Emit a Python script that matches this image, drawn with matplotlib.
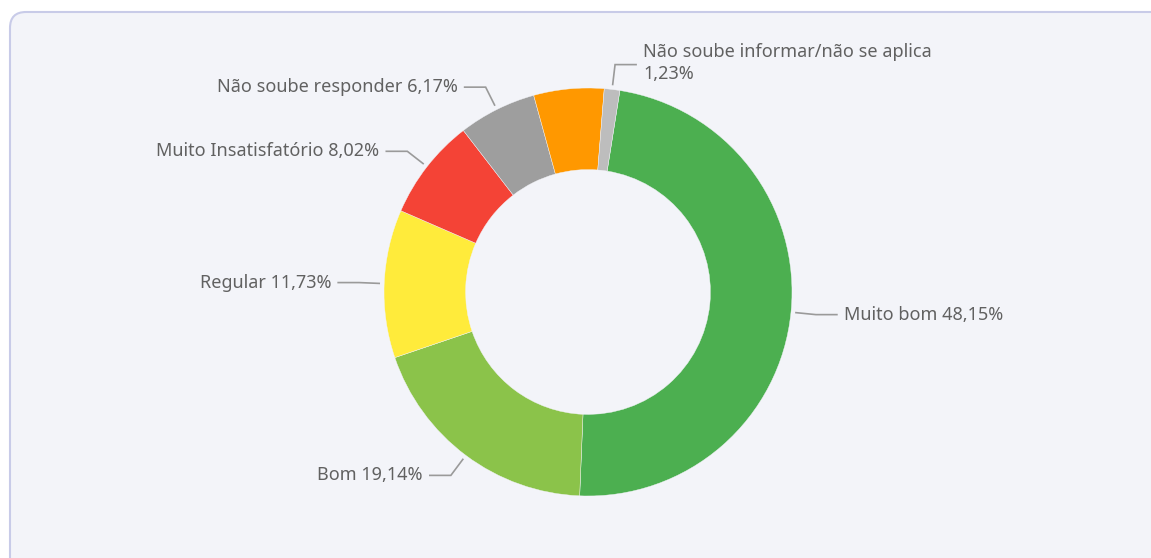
import numpy as np
import matplotlib.pyplot as plt
from matplotlib.patches import FancyBboxPatch

# slice data, clockwise starting from the right of the top
labels = ["Muito bom", "Bom", "Regular", "Muito Insatisfatório",
          "Não soube responder", "Insatisfatório",
          "Não soube informar/não se aplica"]
values = [48.15, 19.14, 11.73, 8.02, 6.17, 5.56, 1.23]
colors = ["#4caf50", "#8bc34a", "#ffeb3b", "#f44336",
          "#9e9e9e", "#ff9800", "#bdbdbd"]
show_label = [True, True, True, True, True, False, True]

W, H = 1151, 558
fig = plt.figure(figsize=(W / 100, H / 100), dpi=100)
fig.patch.set_facecolor("white")

ax = fig.add_axes([0, 0, 1, 1])
ax.set_facecolor("none")
ax.axis("off")

# rounded panel behind the chart
panel = FancyBboxPatch((10, -30), 1180, 576, boxstyle="round,pad=0,rounding_size=16",
                       facecolor="#f3f4f9", edgecolor="#c8cbe8",
                       linewidth=1.5, zorder=0)
ax.add_patch(panel)

cx, cy, r = 588, 558 - 292, 204
start = 9  # degrees clockwise from top where the first slice begins
wedges, _ = ax.pie(values, colors=colors, startangle=90 - start, counterclock=False,
                   radius=r, center=(cx, cy),
                   wedgeprops=dict(width=r * 0.4, edgecolor="#f3f4f9", linewidth=0.3,
                                   zorder=2))
ax.set_xlim(0, W)
ax.set_ylim(0, H)
ax.set_aspect("equal")
ax.axis("off")

font = ["Noto Sans", "DejaVu Sans"]
txt_color = "#616161"
line_color = "#9a9a9a"
fs = 13

cum = start
for lab, val, show in zip(labels, values, show_label):
    ang0 = cum
    cum += val * 3.6
    if not show:
        continue
    mid = np.radians((ang0 + cum) / 2)
    sx, sy = np.sin(mid), np.cos(mid)
    p1 = (cx + (r + 5) * sx, cy + (r + 5) * sy)
    p2 = (cx + (r + 25) * sx, cy + (r + 25) * sy)
    side = 1 if sx >= 0 else -1
    p3 = (p2[0] + side * 21, p2[1])
    ax.plot([p1[0], p2[0], p3[0]], [p1[1], p2[1], p3[1]], color=line_color, lw=1.2,
            solid_joinstyle="miter", zorder=3)
    pct = f"{val:.2f}".replace(".", ",") + "%"
    if lab.startswith("Não soube informar"):
        text = f"{lab}\n{pct}"
        ax.text(p3[0] + 7, p3[1] + 1.5, text, ha="left", va="center", fontsize=fs,
                family=font, color=txt_color, linespacing=1.25, zorder=4)
    else:
        text = f"{lab} {pct}"
        ax.text(p3[0] + side * 7, p3[1], text, ha="left" if side > 0 else "right",
                va="center", fontsize=fs, family=font, color=txt_color, zorder=4)

fig.savefig("out.png", dpi=100, facecolor=fig.get_facecolor())
